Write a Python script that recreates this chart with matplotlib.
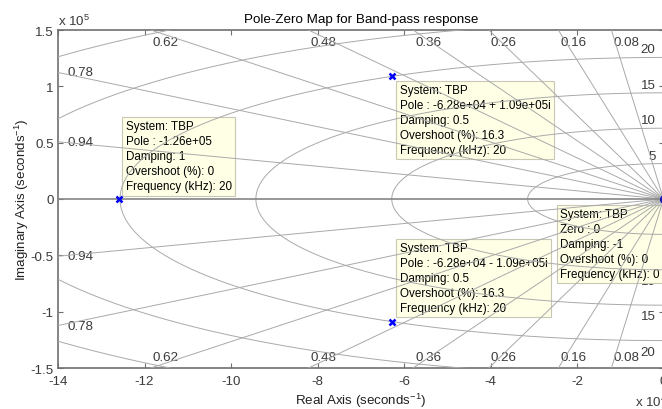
"""Pole-zero map of the band-pass filter TBP.

s-plane grid: constant-damping rays plus natural-frequency arcs (kHz),
with a data tip on every pole and on the zero.
"""
import matplotlib

matplotlib.use("Agg")
import matplotlib.pyplot as plt
import numpy as np

# poles / zero of TBP, rad/s
pole_re = [-1.26e5, -6.28e4, -6.28e4]
pole_im = [0.0, 1.09e5, -1.09e5]
zero_re = [0.0]
zero_im = [0.0]

# grid values
damping = [0.94, 0.78, 0.62, 0.48, 0.36, 0.26, 0.16, 0.08]
freq_khz = [5, 10, 15, 20, 25, 30]

# axis ticks, in units of the exponent labels
x_ticks = [-14, -12, -10, -8, -6, -4, -2, 0]      # x 1e4
y_ticks = [-1.5, -1, -0.5, 0, 0.5, 1, 1.5]        # x 1e5

tip_pole_upper = ["System: TBP", "Pole : -6.28e+04 + 1.09e+05i", "Damping: 0.5",
                  "Overshoot (%): 16.3", "Frequency (kHz): 20"]
tip_pole_real = ["System: TBP", "Pole : -1.26e+05", "Damping: 1",
                 "Overshoot (%): 0", "Frequency (kHz): 20"]
tip_pole_lower = ["System: TBP", "Pole : -6.28e+04 - 1.09e+05i", "Damping: 0.5",
                  "Overshoot (%): 16.3", "Frequency (kHz): 20"]
tip_zero = ["System: TBP", "Zero : 0", "Damping: -1",
            "Overshoot (%): 0", "Frequency (kHz): 0"]

DPI = 100
PX = 72.0 / DPI          # one pixel in points
XLIM = (-14e4, 0.0)
YLIM = (-1.5e5, 1.5e5)

GRID_C = "#a9a9a9"
AXIS_C = "#6f6f6f"
TEXT_C = "#3a3a3a"

plt.rcParams["font.family"] = ["Liberation Sans", "DejaVu Sans"]
plt.rcParams["mathtext.fontset"] = "custom"
plt.rcParams["mathtext.rm"] = "Liberation Sans"
plt.rcParams["mathtext.it"] = "Liberation Sans:italic"
plt.rcParams["mathtext.bf"] = "Liberation Sans:bold"


def draw_grid(ax):
    # natural-frequency arcs, left half plane only
    th = np.linspace(np.pi / 2, 3 * np.pi / 2, 600)
    for f in freq_khz:
        w = 2 * np.pi * f * 1e3
        ax.plot(w * np.cos(th), w * np.sin(th), color=GRID_C, lw=0.7, zorder=3)
        if w <= YLIM[1]:
            for sgn, va, dy in ((1, "bottom", 2), (-1, "top", -5)):
                ax.annotate(f"{f:g}", xy=(0, sgn * w), xytext=(-8 * PX, dy * PX),
                            textcoords="offset points", ha="right", va=va,
                            fontsize=9.6, color=TEXT_C, zorder=1)

    # constant-damping rays
    far = 1e6
    for z in damping:
        s = np.sqrt(1 - z ** 2)
        for sgn in (1, -1):
            ax.plot([0, -far * z], [0, sgn * far * s], color=GRID_C, lw=0.7, zorder=3)
        slope = s / z
        if slope * -XLIM[0] <= YLIM[1]:
            y_hit = slope * -XLIM[0]
            for sgn in (1, -1):
                ax.annotate(f"{z:.2f}", xy=(XLIM[0], sgn * y_hit), xytext=(9 * PX, 0),
                            textcoords="offset points", ha="left", va="center",
                            fontsize=9.6, color=TEXT_C, zorder=1)
        else:
            x_hit = -YLIM[1] / slope
            for sgn, va, dy in ((1, "top", -6), (-1, "bottom", 5)):
                ax.annotate(f"{z:.2f}", xy=(x_hit, sgn * YLIM[1]),
                            xytext=(2 * PX, dy * PX),
                            textcoords="offset points", ha="left", va=va,
                            fontsize=9.6, color=TEXT_C, zorder=1)


def data_tip(ax, x, y, lines, ha, va, dx, dy):
    ax.annotate("\n".join(lines), xy=(x, y), xytext=(dx * PX, dy * PX),
                textcoords="offset points", ha=ha, va=va, multialignment="left",
                fontsize=8.4, linespacing=1.32, color="black", zorder=2,
                annotation_clip=False,
                bbox=dict(boxstyle="square,pad=0.3", fc="#ffffe6", ec="#c8c8b4", lw=0.8))


def main():
    fig = plt.figure(figsize=(662 / DPI, 410 / DPI), dpi=DPI)
    left, top, bottom, right = 58, 31, 369, 663.5
    ax = fig.add_axes([left / 662, 1 - bottom / 410,
                       (right - left) / 662, (bottom - top) / 410])

    draw_grid(ax)
    ax.axhline(0, color="#858585", lw=1.2, zorder=3)

    ax.plot(pole_re, pole_im, "x", color="#0000ff", ms=5, mew=1.8, zorder=5)
    ax.plot(zero_re, zero_im, "o", color="#1010c0", mfc="none", ms=5, mew=1.5,
            zorder=5, clip_on=False)

    data_tip(ax, pole_re[0], pole_im[0], tip_pole_real, "left", "bottom", 7, 7)
    data_tip(ax, pole_re[1], pole_im[1], tip_pole_upper, "left", "top", 8, -8)
    data_tip(ax, pole_re[2], pole_im[2], tip_pole_lower, "left", "bottom", 8, 8)
    data_tip(ax, zero_re[0], zero_im[0], tip_zero, "right", "top", -4, -9)

    ax.set_xlim(*XLIM)
    ax.set_ylim(*YLIM)
    ax.set_xticks([v * 1e4 for v in x_ticks])
    ax.set_xticklabels([f"{v:g}" for v in x_ticks])
    ax.set_yticks([v * 1e5 for v in y_ticks])
    ax.set_yticklabels([f"{v:g}" for v in y_ticks])
    ax.tick_params(direction="in", length=3.5, width=0.8, color=AXIS_C,
                   top=True, right=True, labelsize=9.6, labelcolor=TEXT_C)
    ax.tick_params(axis="x", pad=5)
    ax.tick_params(axis="y", pad=3)
    for sp in ax.spines.values():
        sp.set_color(AXIS_C)
        sp.set_linewidth(1.2)

    ax.set_title("Pole-Zero Map for Band-pass response", fontsize=9.6, pad=6)
    ax.set_xlabel(r"Real Axis (seconds$^{-1}$)", fontsize=9.6, color="#222222", labelpad=3)
    ax.set_ylabel(r"Imaginary Axis (seconds$^{-1}$)", fontsize=9.6, color="#222222",
                  labelpad=0)

    # exponent labels
    fig.text(left / 662, 1 - 26 / 410, r"x 10$^{5}$", fontsize=9.6, color=TEXT_C,
             ha="left", va="baseline")
    fig.text(635 / 662, 1 - 407 / 410, r"x 10$^{4}$", fontsize=9.6, color=TEXT_C,
             ha="left", va="baseline")

    fig.savefig("out.png", dpi=DPI)


if __name__ == "__main__":
    main()
